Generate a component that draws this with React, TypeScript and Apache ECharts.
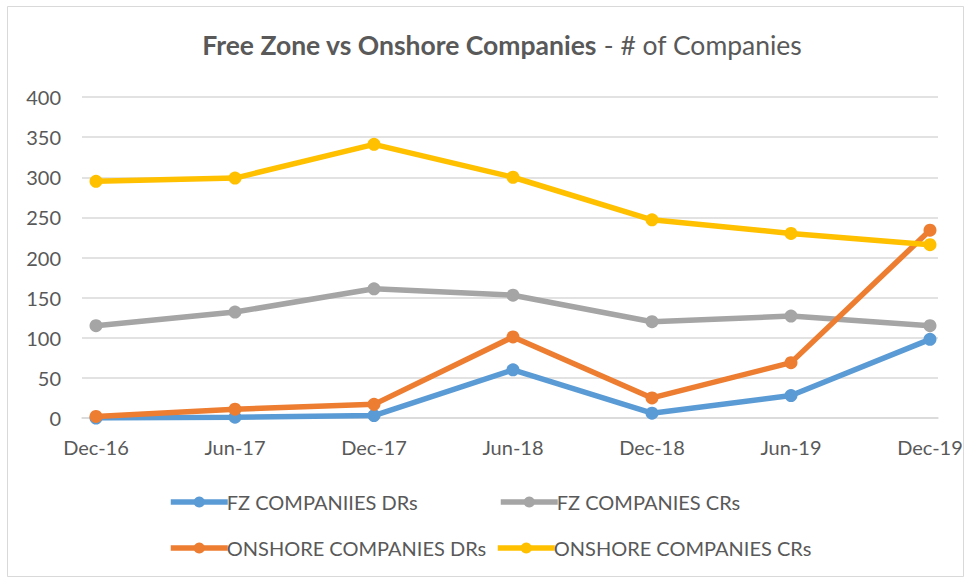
import React, { useEffect, useRef } from "react";
import * as echarts from "echarts";

const categories = ["Dec-16", "Jun-17", "Dec-17", "Jun-18", "Dec-18", "Jun-19", "Dec-19"];
const fzDRs = [0, 1, 3, 60, 6, 28, 98];
const fzCRs = [115, 132, 161, 153, 120, 127, 115];
const onDRs = [2, 11, 17, 101, 25, 69, 234];
const onCRs = [295, 299, 341, 300, 247, 230, 216];
const seriesNames = [
  "FZ COMPANIIES DRs",
  "FZ COMPANIES CRs",
  "ONSHORE COMPANIES DRs",
  "ONSHORE COMPANIES CRs",
];
const colors = ["#5B9BD5", "#A5A5A5", "#ED7D31", "#FFC000"];

const FONT = "Lato";
const TEXT = "#595959";

export default function App() {
  const ref = useRef<HTMLDivElement>(null);
  useEffect(() => {
    if (!ref.current) return;
    const chart = echarts.init(ref.current, undefined, { renderer: "svg" });
    const data = [fzDRs, fzCRs, onDRs, onCRs];
    const legendPos = [
      { left: 163, top: 487 },
      { left: 493, top: 487 },
      { left: 163, top: 533 },
      { left: 490, top: 533 },
    ];
    chart.setOption({
      animation: false,
      backgroundColor: "#ffffff",
      textStyle: { fontFamily: FONT },
      title: {
        text: "{b|Free Zone vs Onshore Companies}{n| - # of Companies}",
        left: 497,
        textAlign: "center",
        top: 26,
        textStyle: {
          rich: {
            b: { fontFamily: FONT, fontSize: 26.5, fontWeight: "bold", color: TEXT },
            n: { fontFamily: FONT, fontSize: 26.5, fontWeight: "normal", color: TEXT },
          },
        },
      },
      graphic: [
        {
          type: "rect",
          shape: { x: 7.5, y: 6.5, width: 956, height: 570 },
          style: { fill: "none", stroke: "#D9D9D9", lineWidth: 1 },
          silent: true,
        },
      ],
      legend: seriesNames.map((n, i) => ({
        data: [n],
        left: legendPos[i].left,
        top: legendPos[i].top,
        itemWidth: 57,
        itemHeight: 14,
        itemGap: 4,
        lineStyle: { width: 5.5 },
        textStyle: { fontFamily: FONT, fontSize: 20, color: TEXT, padding: [0, 0, 0, -6] },
      })),
      grid: [
        { left: 96, right: 37, top: 97, bottom: 162, containLabel: false },
        { left: 82, right: 29, top: 97, bottom: 162, containLabel: false },
      ],
      xAxis: [
        {
          type: "category",
          gridIndex: 0,
          data: categories,
          boundaryGap: false,
          axisLine: { show: false },
          axisTick: { show: false },
          axisLabel: { color: TEXT, fontFamily: FONT, fontSize: 20, margin: 19 },
        },
        {
          type: "value",
          gridIndex: 1,
          min: 0,
          max: 1,
          axisLine: { show: true, lineStyle: { color: "#D9D9D9", width: 1.5 } },
          axisTick: { show: false },
          axisLabel: { show: false },
          splitLine: { show: false },
        },
      ],
      yAxis: [
        {
          type: "value",
          gridIndex: 0,
          min: 0,
          max: 400,
          interval: 50,
          axisLine: { show: false },
          axisTick: { show: false },
          axisLabel: { show: false },
          splitLine: { show: false },
        },
        {
          type: "value",
          gridIndex: 1,
          min: 0,
          max: 400,
          interval: 50,
          axisLine: { show: false },
          axisTick: { show: false },
          axisLabel: { color: TEXT, fontFamily: FONT, fontSize: 20, margin: 21 },
          splitLine: { show: true, lineStyle: { color: "#D9D9D9", width: 1.5 } },
        },
      ],
      series: seriesNames.map((n, i) => ({
        name: n,
        type: "line",
        xAxisIndex: 0,
        yAxisIndex: 0,
        data: data[i],
        color: colors[i],
        symbol: "circle",
        symbolSize: 13,
        lineStyle: { width: 5.5, color: colors[i] },
        itemStyle: { color: colors[i] },
        z: 2 + i,
      })),
    });
    return () => chart.dispose();
  }, []);
  return (
    <div
      ref={ref}
      style={{ position: "absolute", left: 0, top: 0, width: 967, height: 580 }}
    />
  );
}
